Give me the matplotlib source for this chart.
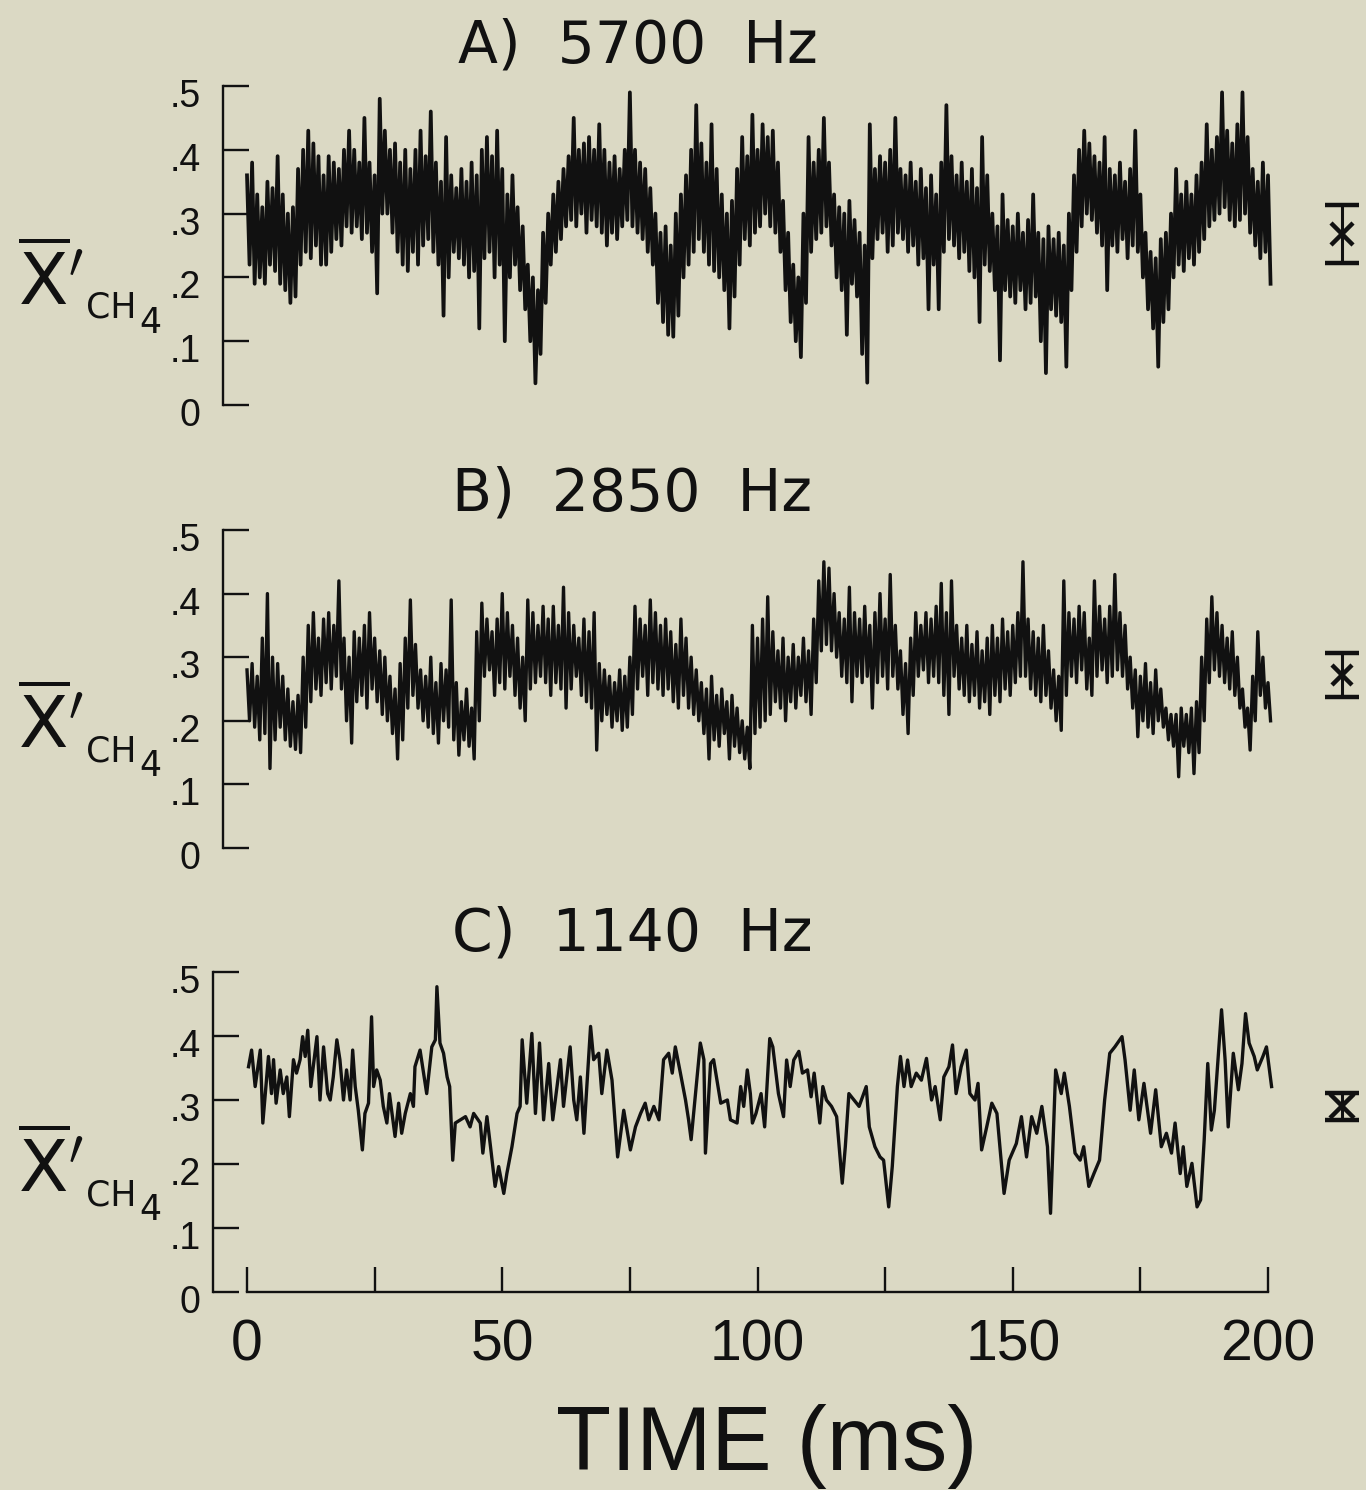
import numpy as np
import matplotlib.pyplot as plt
from matplotlib.transforms import ScaledTranslation

plt.rcParams['mathtext.fontset'] = 'dejavusans'

# A) 5700 Hz -- upper and lower edge of the dense trace, one pair per ms (0..200)
a_high = [.36, .38, .33, .31, .35, .34, .39, .33, .30, .31,
          .37, .40, .43, .41, .39, .36, .39, .38, .37, .40,
          .43, .40, .38, .45, .38, .36, .48, .43, .40, .41,
          .38, .40, .37, .40, .43, .39, .46, .38, .35, .42,
          .36, .34, .37, .35, .38, .36, .40, .42, .39, .43,
          .37, .33, .36, .31, .28, .22, .20, .18, .27, .30,
          .33, .35, .37, .39, .45, .40, .41, .42, .40, .44,
          .40, .38, .39, .37, .40, .49, .40, .38, .37, .34,
          .30, .27, .28, .25, .30, .33, .36, .40, .47, .41,
          .38, .44, .37, .33, .30, .32, .37, .42, .39, .455,
          .40, .44, .42, .43, .38, .32, .27, .22, .20, .30,
          .42, .38, .40, .45, .38, .33, .31, .30, .32, .29,
          .27, .25, .44, .37, .39, .38, .40, .45, .37, .36,
          .38, .35, .37, .34, .36, .33, .38, .47, .39, .36,
          .38, .35, .37, .34, .42, .36, .30, .28, .33, .29,
          .28, .30, .27, .29, .33, .27, .26, .28, .26, .27,
          .25, .30, .36, .40, .43, .41, .39, .38, .42, .37,
          .36, .38, .35, .37, .43, .33, .27, .24, .23, .26,
          .27, .30, .37, .33, .35, .33, .36, .38, .44, .40,
          .42, .49, .43, .41, .44, .49, .42, .37, .35, .38,
          .36]
a_low = [.22, .19, .20, .19, .22, .21, .19, .18, .16, .17,
         .22, .24, .23, .25, .22, .22, .24, .26, .25, .28,
         .27, .28, .26, .27, .24, .175, .30, .30, .27, .24,
         .22, .21, .24, .22, .25, .26, .24, .22, .14, .20,
         .24, .23, .22, .20, .21, .12, .23, .24, .20, .22,
         .10, .20, .22, .18, .15, .10, .034, .08, .16, .22,
         .24, .26, .28, .29, .28, .30, .27, .29, .28, .27,
         .25, .27, .26, .28, .29, .28, .27, .26, .24, .22,
         .16, .13, .11, .107, .14, .20, .22, .24, .26, .24,
         .22, .21, .20, .18, .12, .17, .22, .26, .25, .27,
         .28, .30, .28, .27, .24, .18, .13, .10, .075, .16,
         .24, .26, .27, .28, .25, .20, .18, .11, .19, .17,
         .08, .035, .23, .26, .27, .24, .25, .27, .26, .24,
         .25, .22, .23, .15, .22, .15, .24, .26, .25, .23,
         .24, .21, .20, .13, .22, .21, .18, .07, .18, .17,
         .16, .18, .15, .16, .17, .10, .05, .15, .14, .13,
         .06, .18, .24, .28, .30, .29, .27, .25, .18, .25,
         .24, .26, .23, .25, .24, .20, .15, .12, .06, .13,
         .15, .20, .22, .21, .23, .22, .24, .26, .28, .29,
         .30, .31, .29, .28, .29, .30, .27, .25, .23, .24,
         .19]

# B) 2850 Hz
b_high = [.28, .29, .27, .33, .40, .30, .29, .27, .25, .23,
          .24, .30, .35, .37, .33, .36, .37, .35, .42, .33,
          .30, .34, .33, .35, .37, .33, .31, .30, .27, .25,
          .29, .33, .39, .32, .28, .27, .30, .26, .29, .28,
          .39, .26, .23, .25, .22, .34, .385, .36, .34, .36,
          .40, .37, .35, .33, .30, .39, .37, .35, .38, .36,
          .38, .35, .41, .37, .35, .33, .36, .34, .37, .29,
          .28, .27, .26, .28, .27, .30, .38, .36, .35, .39,
          .37, .35, .36, .34, .32, .36, .33, .30, .28, .26,
          .25, .27, .24, .25, .23, .24, .22, .20, .19, .35,
          .33, .36, .395, .34, .31, .33, .30, .32, .30, .33,
          .31, .36, .42, .45, .44, .40, .37, .36, .41, .37,
          .36, .38, .35, .37, .40, .36, .43, .35, .31, .29,
          .33, .37, .35, .37, .36, .38, .416, .37, .42, .35,
          .33, .35, .32, .34, .31, .33, .35, .33, .36, .34,
          .35, .37, .45, .36, .34, .33, .35, .31, .28, .27,
          .42, .37, .36, .38, .37, .33, .42, .38, .36, .38,
          .43, .37, .35, .30, .28, .27, .29, .26, .28, .25,
          .22, .21, .21, .22, .21, .22, .23, .30, .36, .395,
          .37, .35, .33, .34, .30, .25, .22, .27, .34, .30,
          .26]
b_low = [.20, .19, .17, .18, .125, .17, .19, .17, .16, .155,
         .15, .19, .23, .25, .24, .26, .25, .27, .25, .20,
         .165, .23, .24, .22, .25, .23, .21, .20, .18, .14,
         .17, .22, .24, .22, .20, .19, .18, .165, .20, .19,
         .17, .146, .17, .16, .14, .20, .27, .28, .24, .26,
         .25, .27, .24, .22, .20, .25, .26, .27, .26, .24,
         .26, .25, .22, .25, .27, .24, .23, .22, .154, .20,
         .21, .19, .20, .185, .19, .21, .25, .27, .24, .26,
         .25, .24, .25, .23, .22, .24, .22, .21, .20, .18,
         .14, .17, .16, .18, .14, .16, .15, .14, .125, .18,
         .19, .20, .21, .23, .22, .20, .23, .22, .24, .23,
         .21, .26, .31, .32, .31, .30, .27, .26, .23, .27,
         .26, .27, .22, .26, .27, .25, .27, .25, .21, .18,
         .24, .27, .28, .26, .27, .26, .24, .21, .27, .25,
         .24, .23, .24, .22, .23, .21, .24, .23, .25, .24,
         .26, .27, .27, .25, .24, .23, .24, .22, .20, .185,
         .24, .27, .26, .28, .25, .24, .27, .28, .26, .27,
         .28, .27, .25, .22, .175, .20, .19, .18, .20, .19,
         .17, .16, .112, .16, .15, .117, .15, .20, .26, .28,
         .27, .26, .25, .24, .22, .19, .154, .20, .24, .22,
         .20]

# C) 1140 Hz -- single trace, time (ms) and value
c_time = [0.3, 0.9, 1.6, 2.6, 3.1, 4.2, 4.8, 5.2, 5.7, 6.5, 7.1, 7.8, 8.3, 9.1, 9.7,
          10.4, 10.9, 11.4, 11.9, 12.5, 13.7, 14.3, 15.0, 15.8, 16.3, 16.9, 17.6, 18.2,
          18.9, 19.5, 20.2, 20.7, 21.2, 21.8, 22.6, 23.1, 23.8, 24.4, 24.8, 25.4, 26.1,
          26.7, 27.4, 27.9, 29.0, 29.7, 30.3, 31.0, 32.0, 32.6, 32.9, 33.9, 35.2, 36.2,
          36.9, 37.2, 37.8, 38.5, 39.2, 39.7, 40.3, 40.8, 41.8, 42.8, 43.7, 44.4, 45.7,
          46.2, 47.0, 47.7, 48.6, 49.3, 50.3, 50.9, 51.9, 52.9, 53.5, 53.9, 54.8, 55.8,
          56.5, 57.3, 58.1, 59.1, 59.9, 61.4, 62.0, 63.3, 64.0, 64.6, 65.3, 66.0, 67.3,
          67.9, 68.9, 69.5, 70.5, 71.5, 72.6, 73.8, 75.1, 76.1, 77.1, 78.0, 78.7, 79.7,
          80.7, 81.6, 82.6, 83.3, 83.9, 84.9, 85.9, 86.5, 87.0, 88.8, 89.5, 89.8, 90.8,
          91.4, 92.8, 94.1, 94.7, 96.0, 96.7, 97.3, 98.0, 98.6, 99.0,
          99.7, 100.7, 101.4, 102.4, 103.0, 104.1, 105.1, 105.7, 106.4, 107.1, 108.1,
          108.8, 109.8, 110.5, 111.1, 112.2, 112.8, 113.5, 114.5, 115.5, 116.6, 117.2,
          117.9, 118.9, 119.9, 121.3, 121.9, 123.0, 124.0, 124.7, 125.7, 126.4, 127.4,
          128.0, 128.7, 129.4, 130.1, 131.1, 132.1, 133.1, 134.1, 134.8, 135.8, 136.5,
          137.5, 138.2, 138.9, 139.9, 140.9, 141.6, 142.6, 143.2, 143.9, 144.9, 145.9,
          146.9, 148.3, 149.3, 150.7, 151.7, 152.7, 153.7, 154.7, 155.7, 156.8, 157.4,
          158.4, 159.5, 160.1, 161.1, 162.2, 163.2, 163.9, 164.9, 165.9, 167.0, 168.0,
          169.0, 170.0, 171.4, 172.0, 173.0, 173.8, 174.7, 175.7, 177.0, 178.0, 179.1,
          180.1, 181.1, 181.8, 182.8, 183.4, 184.1, 185.1, 186.1, 186.8, 187.5, 188.2,
          188.9, 189.5, 190.9, 191.6, 192.2, 193.2, 194.2, 194.9, 195.6, 196.3, 197.3,
          197.9, 199.0, 199.7, 200.7]
c_value = [.352, .378, .321, .378, .264, .368, .310, .363, .295, .347, .310, .336, .274, .363, .342,
           .363, .399, .368, .409, .321, .399, .300, .383, .310, .300, .336, .394, .363,
           .300, .347, .300, .378, .321, .284, .222, .279, .295, .430, .321, .347, .331,
           .290, .264, .310, .243, .295, .248, .279, .310, .290, .352, .378, .310, .383,
           .394, .477, .389, .373, .336, .321, .206, .264, .269, .274, .258, .279, .264,
           .217, .274, .227, .165, .196, .154, .185, .227, .279, .290, .394, .295, .404,
           .279, .389, .269, .357, .269, .363, .290, .383, .300, .269, .336, .248, .415,
           .363, .373, .310, .378, .331, .211, .284, .222, .258, .279, .295, .269, .290,
           .269, .363, .373, .342, .383, .342, .300, .269, .238, .389, .363, .217, .357,
           .363, .295, .300, .269, .264, .321, .290, .347, .310, .264,
           .279, .310, .258, .396, .383, .310, .274, .3625, .321, .3625, .376,
           .342, .347, .305, .342, .264, .321, .300, .290, .274, .170, .227,
           .310, .300, .290, .321, .258, .227, .211, .206, .133, .196, .321,
           .368, .321, .3625, .321, .342, .331, .365, .300, .321, .269, .336,
           .352, .386, .310, .352, .378, .310, .300, .326, .222, .258, .295,
           .279, .154, .206, .232, .274, .211, .274, .248, .290, .227, .123,
           .347, .310, .342, .290, .217, .206, .227, .165, .185, .206, .300,
           .373, .383, .399, .3625, .284, .347, .269, .326, .248, .316, .227,
           .248, .217, .264, .185, .227, .165, .201, .133, .144, .2375, .357,
           .253, .284, .441, .3625, .258, .373, .316, .357, .435, .389, .368,
           .347, .368, .383, .321]

titles = ["A)  5700  Hz", "B)  2850  Hz", "C)  1140  Hz"]
y_ticks = [0, .1, .2, .3, .4, .5]
y_ticklabels = ["0", ".1", ".2", ".3", ".4", ".5"]
x_ticks = [0, 50, 100, 150, 200]
x_minor = [25, 75, 125, 175]
rms_mid = [0.268, 0.272, 0.29]
rms_half = [0.045, 0.035, 0.021]

bg = '#dbd9c4'
ink = '#111111'
W, H = 1366, 1490
zero_px, px_per_ms, right_px = 247, 5.105, 1282

fig = plt.figure(figsize=(W / 100, H / 100), dpi=100, facecolor=bg)


def make_axes(spine_px, top_px, bottom_px, pad):
    ax = fig.add_axes([spine_px / W, 1 - bottom_px / H,
                       (right_px - spine_px) / W, (bottom_px - top_px) / H])
    ax.set_facecolor('none')
    ax.set_xlim((spine_px - zero_px) / px_per_ms, (right_px - zero_px) / px_per_ms)
    ax.set_ylim(0, 0.5)
    for side in ['top', 'right', 'bottom']:
        ax.spines[side].set_visible(False)
    ax.spines['left'].set_linewidth(1.7)
    ax.spines['left'].set_color(ink)
    ax.set_yticks(y_ticks)
    ax.set_yticklabels(y_ticklabels, family='Liberation Sans')
    ax.tick_params(axis='y', direction='in', length=19, width=1.7, pad=pad,
                   labelsize=27, colors=ink)
    for lab in ax.get_yticklabels():
        lab.set_transform(lab.get_transform() + ScaledTranslation(0, -0.07, fig.dpi_scale_trans))
    ax.set_xticks([])
    return ax


ax_a = make_axes(223, 86, 405, 16)
ax_b = make_axes(223, 530, 848, 16)
ax_c = make_axes(213, 972, 1292, 9)

# dense traces: zig-zag between the upper and lower edge every half ms
for ax, hi, lo, lw in [(ax_a, a_high, a_low, 2.7), (ax_b, b_high, b_low, 2.4)]:
    t = np.repeat(np.arange(len(hi)), 2) + np.tile([0.0, 0.5], len(hi))
    v = np.column_stack([hi, lo]).ravel()
    ax.plot(t, v, color=ink, lw=lw)

ax_c.plot(c_time, c_value, color=ink, lw=2.4)

# time axis on the bottom panel
ax_c.spines['bottom'].set_visible(True)
ax_c.spines['bottom'].set_bounds(0, 200)
ax_c.spines['bottom'].set_linewidth(1.7)
ax_c.spines['bottom'].set_color(ink)
ax_c.set_xticks(x_ticks)
ax_c.set_xticks(x_minor, minor=True)
ax_c.set_xticklabels([str(x) for x in x_ticks], family='Liberation Sans')
ax_c.tick_params(axis='x', which='both', direction='in', length=18, width=1.7,
                 pad=19, labelsize=41, colors=ink)

# rms bars at the right
marker_sizes = [16, 15, 17]
for ax, mid, half, ms in zip([ax_a, ax_b, ax_c], rms_mid, rms_half, marker_sizes):
    line, caps, bars = ax.errorbar([214.5], [mid], yerr=[half], fmt='x', color=ink,
                                   ms=ms, mew=3.2, capsize=12, capthick=3, elinewidth=2.2)
    line.set_clip_on(False)
    for c in caps:
        c.set_clip_on(False)
    for b in bars:
        b.set_clip_on(False)

# panel titles
for title, (cx, base) in zip(titles, [(638, 63), (632, 510), (632, 951)]):
    fig.text(cx / W, 1 - base / H, title, ha='center', va='baseline',
             fontsize=42, color=ink, family='DejaVu Sans')

# y labels
for dy in [0, 443, 887]:
    fig.text(18 / W, 1 - (305 + dy) / H, r"$\overline{\mathrm{X}}'$", fontsize=52,
             ha='left', va='baseline', color=ink)
    fig.text(86 / W, 1 - (318 + dy) / H, "CH", fontsize=25, ha='left', va='baseline',
             color=ink, family='DejaVu Sans')
    fig.text(139 / W, 1 - (333 + dy) / H, "4", fontsize=25, ha='left', va='baseline',
             color=ink, family='DejaVu Sans')

fig.text(767 / W, 1 - 1470 / H, "TIME (ms)", ha='center', va='baseline',
         fontsize=65, color=ink, family='Liberation Sans')

fig.savefig('out.png', dpi=100, facecolor=bg)
